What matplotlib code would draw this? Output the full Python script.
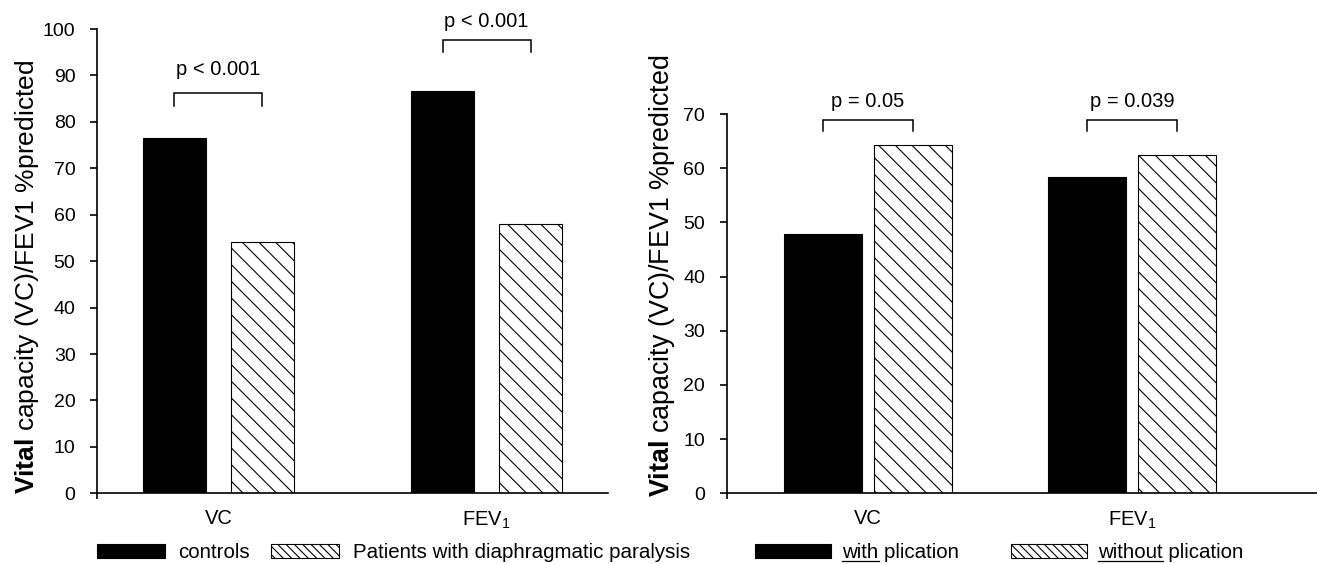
import matplotlib
matplotlib.use("Agg")
import matplotlib.pyplot as plt
from matplotlib.patches import Patch
from matplotlib.lines import Line2D
import numpy as np

plt.rcParams["font.family"] = ["Liberation Sans", "DejaVu Sans"]
plt.rcParams["mathtext.fontset"] = "custom"
plt.rcParams["mathtext.rm"] = "Liberation Sans"
plt.rcParams["mathtext.bf"] = "Liberation Sans:bold"
plt.rcParams["mathtext.default"] = "regular"
plt.rcParams["hatch.linewidth"] = 0.8

# data
GROUPS = ["VC", "FEV$_1$"]
CONTROLS = [76.5, 86.6]
PATIENTS = [54.2, 58.1]
WITH_PLICATION = [47.9, 58.3]
WITHOUT_PLICATION = [64.3, 62.4]
P_LEFT = ["p < 0.001", "p < 0.001"]
P_RIGHT = ["p = 0.05", "p = 0.039"]

YLABEL = r"$\bf{Vital}$ capacity (VC)/FEV1 %predicted"

FS = 14
W, H = 1317, 564
BASE = 493.3  # pixel row of the zero line


def style_axes(ax, xlim, ylim, yticks):
    ax.set_xlim(*xlim)
    ax.set_ylim(*ylim)
    ax.set_yticks(yticks)
    for s in ("top", "right"):
        ax.spines[s].set_visible(False)
    for s in ("left", "bottom"):
        ax.spines[s].set_linewidth(1.2)
    ax.set_xticks([0, 1])
    ax.set_xticklabels(GROUPS, fontsize=FS + 0.5)
    ax.tick_params(axis="x", which="major", length=0, pad=11.5)
    ax.set_xticks([xlim[0]], minor=True)
    ax.tick_params(axis="x", which="minor", length=4, width=1.2, direction="out")
    ax.tick_params(axis="y", length=5, width=1.2, labelsize=FS, pad=10.5)


def bracket(ax, x0, x1, y, drop, label, ty):
    ax.plot([x0, x0, x1, x1], [y - drop, y, y, y - drop], color="black",
            lw=1.1, clip_on=False, solid_joinstyle="miter")
    ax.text((x0 + x1) / 2, ty, label, ha="center", va="center", fontsize=FS + 0.5)


fig = plt.figure(figsize=(W / 100, H / 100), dpi=100)

# ---- left panel
axL = fig.add_axes([97 / W, (H - BASE) / H, 511 / W, 464.3 / H])
x = np.arange(len(GROUPS))
bw, off = 0.235, 0.164
axL.bar(x - off, CONTROLS, bw, color="black", edgecolor="black", lw=0.8)
axL.bar(x + off, PATIENTS, bw, color="white", edgecolor="black", lw=0.8,
        hatch="\\\\")
style_axes(axL, (-0.453, 1.453), (0, 100), range(0, 101, 10))
bracket(axL, -off, off, 86.2, 2.8, P_LEFT[0], 91.2)
bracket(axL, 1 - off, 1 + off, 97.6, 2.5, P_LEFT[1], 101.6)

# ---- right panel
axR = fig.add_axes([726.7 / W, (H - BASE) / H, (W - 726.7) / W, 379.3 / H])
bw2, off2 = 0.295, 0.171
axR.bar(x - off2, WITH_PLICATION, bw2, color="black", edgecolor="black", lw=0.8)
axR.bar(x + off2, WITHOUT_PLICATION, bw2, color="white", edgecolor="black",
        lw=0.8, hatch="\\\\")
style_axes(axR, (-0.535, 1.70), (0, 70), range(0, 71, 10))
bracket(axR, -off2, off2, 68.9, 2.1, P_RIGHT[0], 72.3)
bracket(axR, 1 - off2, 1 + off2, 68.9, 2.1, P_RIGHT[1], 72.3)

# y labels
fig.text(27 / W, 1 - 277 / H, YLABEL, rotation=90, ha="center", va="center",
         fontsize=19)
fig.text(662 / W, 1 - 276 / H, YLABEL, rotation=90, ha="center", va="center",
         fontsize=19.4)

# legends
solid = Patch(facecolor="black", edgecolor="black", lw=0.8)
hatched = Patch(facecolor="white", edgecolor="black", lw=0.8, hatch="\\\\\\\\")

leg_kw = dict(loc="center left", ncol=2, frameon=False, fontsize=FS + 0.8,
              borderpad=0, borderaxespad=0, handleheight=0.65)
axL.legend([solid, hatched], ["controls", "Patients with diaphragmatic paralysis"],
           bbox_to_anchor=(0, (BASE - 553) / 464.3), handlelength=3.3,
           handletextpad=0.65, columnspacing=1.05, **leg_kw)
legR = axR.legend([solid, hatched], ["with plication", "without plication"],
                  bbox_to_anchor=((755 - 726.7) / 590.3, (BASE - 553) / 379.3),
                  handlelength=3.7, handletextpad=0.55, columnspacing=2.5,
                  **leg_kw)

# underline the first word of the right legend labels
fig.canvas.draw()
renderer = fig.canvas.get_renderer()
for t in legR.get_texts():
    word = t.get_text().split()[0]
    bb = t.get_window_extent(renderer)
    prop = t.get_fontproperties()
    _, _, desc = renderer.get_text_width_height_descent(t.get_text(), prop, ismath=False)
    ww, _, _ = renderer.get_text_width_height_descent(word, prop, ismath=False)
    yb = bb.y0 + desc - 2.5
    fig.add_artist(Line2D([bb.x0 / W, (bb.x0 + ww) / W], [yb / H, yb / H],
                          color="black", lw=0.9, transform=fig.transFigure))

fig.savefig("out.png", dpi=100, facecolor="white")
